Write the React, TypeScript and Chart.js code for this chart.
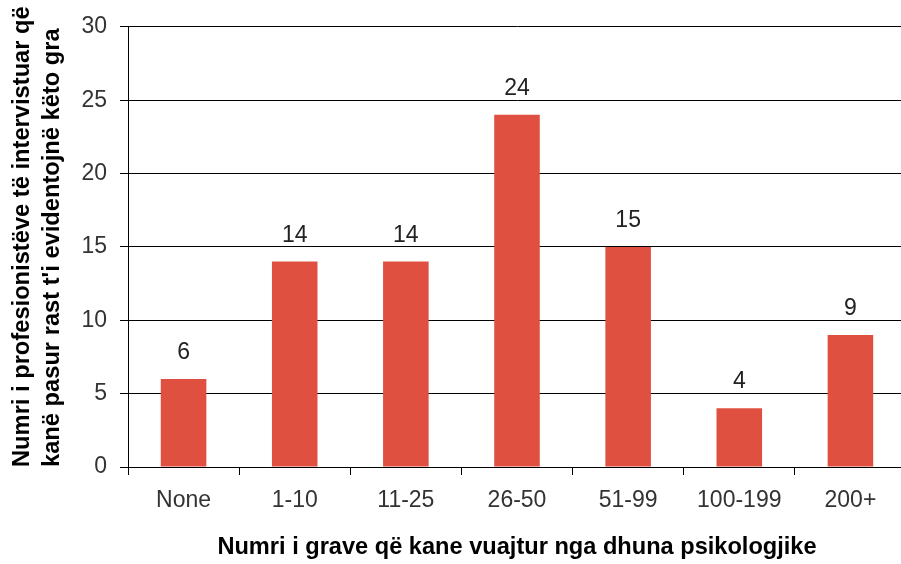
import React, { useEffect, useRef } from "react";
import { Chart, registerables } from "chart.js";

Chart.register(...registerables);

const categories = ["None", "1-10", "11-25", "26-50", "51-99", "100-199", "200+"];
const values = [6, 14, 14, 24, 15, 4, 9];
const yTitle = ["Numri i profesionistëve të intervistuar që", "kanë pasur rast t'i evidentojnë këto gra"];
const xTitle = "Numri i grave që kane vuajtur nga dhuna psikologjike";

const FONT = "'Liberation Sans', Arial, sans-serif";

const valueLabels = {
  id: "valueLabels",
  afterDatasetsDraw(chart: any) {
    const ctx = chart.ctx;
    const meta = chart.getDatasetMeta(0);
    ctx.save();
    ctx.font = `23px ${FONT}`;
    ctx.fillStyle = "#222";
    ctx.textAlign = "center";
    ctx.textBaseline = "alphabetic";
    meta.data.forEach((bar: any, i: number) => {
      ctx.fillText(String(values[i]), bar.x, bar.y - 20);
    });
    ctx.restore();
  },
};

export default function App() {
  const ref = useRef<HTMLCanvasElement>(null);
  useEffect(() => {
    const chart = new Chart(ref.current!, {
      type: "bar",
      data: {
        labels: categories,
        datasets: [
          {
            data: values,
            backgroundColor: "#DF5040",
            barPercentage: 0.41,
            categoryPercentage: 1,
          },
        ],
      },
      options: {
        animation: false,
        responsive: false,
        layout: { padding: { top: 24, left: 0, right: 0, bottom: 0 } },
        plugins: { legend: { display: false }, tooltip: { enabled: false } },
        scales: {
          x: {
            afterFit(scale: any) {
              scale.height = 97;
            },
            grid: { drawOnChartArea: false, offset: true, tickLength: 8, color: "#000" },
            border: { display: true, color: "#000", width: 1 },
            ticks: { color: "#333", font: { family: FONT, size: 23 }, padding: 12, maxRotation: 0, autoSkip: false },
            title: {
              display: true,
              text: xTitle,
              color: "#000",
              font: { family: FONT, size: 23.6, weight: "bold" },
              padding: { top: 0, bottom: 2 },
            },
          },
          y: {
            min: 0,
            max: 30,
            afterFit(scale: any) {
              scale.width = 128;
            },
            grid: { color: "#000", tickLength: 8, tickColor: "#000" },
            border: { display: true, color: "#000", width: 1 },
            ticks: { stepSize: 5, color: "#333", font: { family: FONT, size: 23 }, padding: 13 },
            title: {
              display: true,
              text: yTitle,
              align: "start",
              color: "#000",
              font: { family: FONT, size: 23.7, weight: "bold", lineHeight: 1.27 },
              padding: { top: 7, bottom: 0 },
            },
          },
        },
      },
      plugins: [valueLabels],
    } as any);
    return () => chart.destroy();
  }, []);
  return (
    <div style={{ position: "fixed", left: 0, top: 0, width: 901, height: 564, overflow: "hidden", background: "#fff" }}>
      <canvas ref={ref} width={906} height={564} style={{ display: "block" }} />
    </div>
  );
}
